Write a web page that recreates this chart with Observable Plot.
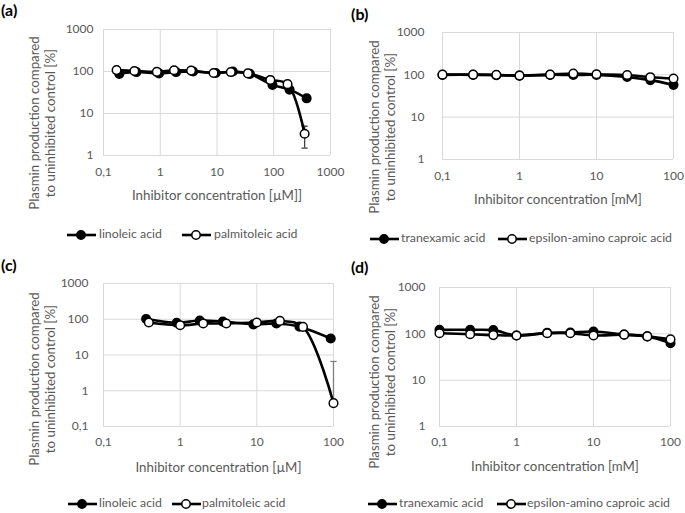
<!DOCTYPE html>
<html><head><meta charset="utf-8">
<script src="https://cdn.jsdelivr.net/npm/d3@7"></script>
<script src="https://cdn.jsdelivr.net/npm/@observablehq/plot@0.6"></script>
<style>
body{margin:0;background:#fff;}
#root{position:relative;width:685px;height:513px;overflow:hidden;font-family:Lato,"Open Sans",sans-serif;background:#fff;}
.panel{position:absolute;}
.panel svg{overflow:visible;}
.tag{position:absolute;font-weight:bold;font-size:16px;color:#000;line-height:16px;}
.leg{position:absolute;font-size:12.3px;color:#595959;white-space:nowrap;line-height:14px;}
.sw{position:absolute;}
.ytitle{position:absolute;white-space:pre;text-align:center;font-size:13.3px;line-height:16px;color:#595959;transform:translate(-50%,-50%) rotate(-90deg);transform-origin:50% 50%;}
</style></head><body><div id="root"></div>
<script>
// ---------- data ----------
// Panel (a): fatty acids, µM
const aLinX = [0.19, 0.38, 0.95, 1.9, 3.8, 9.5, 19, 38, 95, 190, 380];
const aLinY = [88, 97, 90, 97, 100, 92, 100, 88, 48, 37, 23];
const aPalX = [0.17, 0.35, 0.87, 1.75, 3.5, 8.7, 17.5, 35, 87, 175, 350];
const aPalY = [108, 103, 98, 107, 105, 92, 97, 90, 63, 50, 3.3];
const aErrX = [380, 350];
const aErrLo = [20, 1.5];
const aErrHi = [27, 5];

// Panel (b): lysine analogues, mM
const bX = [0.1, 0.25, 0.5, 1, 2.5, 5, 10, 25, 50, 100];
const bTraY = [100, 100, 98, 96, 100, 99, 100, 89, 75, 58];
const bEpsY = [101, 101, 100, 96, 101, 107, 103, 99, 88, 82];

// Panel (c): fatty acids, µM
const cLinX = [0.36, 0.9, 1.8, 3.6, 9, 18, 36, 92];
const cLinY = [102, 80, 92, 86, 72, 76, 62, 29];
const cPalX = [0.39, 1, 2, 4, 10, 20, 40, 100];
const cPalY = [81, 68, 76, 76, 81, 90, 61, 0.45];
const cErrX = [92, 100];
const cErrLo = [26, 0.45];
const cErrHi = [33, 6.6];

// Panel (d): lysine analogues, mM
const dX = [0.1, 0.25, 0.5, 1, 2.5, 5, 10, 25, 50, 100];
const dTraY = [122, 122, 120, 92, 105, 107, 112, 96, 88, 63];
const dEpsY = [103, 98, 94, 92, 103, 103, 92, 96, 88, 76];

// tick labels
const xTicksA = [0.1, 1, 10, 100, 1000];
const xLabelsA = ["0,1", "1", "10", "100", "1000"];
const xTicksB = [0.1, 1, 10, 100];
const xLabelsB = ["0,1", "1", "10", "100"];
const yTicks1 = [1, 10, 100, 1000];
const yLabels1 = ["1", "10", "100", "1000"];
const yTicks01 = [0.1, 1, 10, 100, 1000];
const yLabels01 = ["0,1", "1", "10", "100", "1000"];

const yTitle = "Plasmin production compared\nto uninhibited control [%]";
const fattyNames = ["linoleic acid", "palmitoleic acid"];
const lysineNames = ["tranexamic acid", "epsilon-amino caproic acid"];

// ---------- drawing ----------
const capSymbol = {draw(ctx, size) { const w = Math.sqrt(size) / 2; ctx.moveTo(-w, 0); ctx.lineTo(w, 0); }};

function rows(xs, ys) { return xs.map((x, i) => ({x, y: ys[i]})); }

function panel(cfg) {
  const xMap = new Map(cfg.xTicks.map((t, i) => [t, cfg.xLabels[i]]));
  const yMap = new Map(cfg.yTicks.map((t, i) => [t, cfg.yLabels[i]]));
  const errs = cfg.errX ? cfg.errX.map((x, i) => ({x, lo: cfg.errLo[i], hi: cfg.errHi[i]})) : [];
  const marks = [
    Plot.gridX(cfg.xTicks, {stroke: "#d9d9d9", strokeOpacity: 1, strokeWidth: 1}),
    Plot.gridY(cfg.yTicks, {stroke: "#d9d9d9", strokeOpacity: 1, strokeWidth: 1}),
    Plot.axisX(cfg.xTicks, {tickSize: 0, tickPadding: cfg.xPad, tickFormat: d => xMap.get(d), label: null, fill: "#595959"}),
    Plot.axisY(cfg.yTicks, {tickSize: 0, tickPadding: cfg.yPad, tickFormat: d => yMap.get(d), label: null, fill: "#595959"}),
    Plot.ruleX(errs, {x: "x", y1: "lo", y2: "hi", stroke: cfg.errColor, strokeWidth: 1.3}),
    Plot.dot(errs, {x: "x", y: "hi", symbol: capSymbol, r: 3.5, stroke: cfg.errColor, strokeWidth: 1.3, fill: "none"}),
    Plot.dot(errs.filter(() => cfg.lowCaps), {x: "x", y: "lo", symbol: capSymbol, r: 3.5, stroke: cfg.errColor, strokeWidth: 1.3, fill: "none"})
  ];
  cfg.series.forEach(s => {
    marks.push(Plot.line(rows(s.x, s.y), {x: "x", y: "y", stroke: "#000", strokeWidth: 2.6, curve: "catmull-rom"}));
  });
  cfg.series.forEach(s => {
    marks.push(Plot.dot(rows(s.x, s.y), {x: "x", y: "y", r: 4.3, fill: s.filled ? "#000" : "#fff", stroke: "#000", strokeWidth: 1.5}));
  });
  marks.push(Plot.text([cfg.xTitle], {text: d => d, frameAnchor: "bottom", dy: cfg.xTitleDy, lineAnchor: "middle", fontSize: 13.3, fill: "#595959"}));
  const svg = Plot.plot({
    width: cfg.width, height: cfg.height,
    marginLeft: cfg.ml, marginRight: cfg.mr, marginTop: cfg.mt, marginBottom: cfg.mb,
    style: {fontFamily: "Lato, 'Open Sans', sans-serif", fontSize: "12px", color: "#595959", background: "transparent", overflow: "visible"},
    x: {type: "log", domain: cfg.xDomain},
    y: {type: "log", domain: cfg.yDomain},
    marks
  });
  const div = document.createElement("div");
  div.className = "panel";
  div.style.left = cfg.left + "px";
  div.style.top = cfg.top + "px";
  div.appendChild(svg);
  root.appendChild(div);

  const yt = document.createElement("div");
  yt.className = "ytitle";
  yt.textContent = yTitle;
  yt.style.left = cfg.yTitleX + "px";
  yt.style.top = cfg.yTitleY + "px";
  root.appendChild(yt);

  const tag = document.createElement("div");
  tag.className = "tag";
  tag.textContent = cfg.tag;
  tag.style.left = cfg.tagX + "px";
  tag.style.top = cfg.tagY + "px";
  root.appendChild(tag);

  cfg.legend.forEach((it, i) => {
    const ns = "http://www.w3.org/2000/svg";
    const sw = document.createElementNS(ns, "svg");
    sw.setAttribute("width", 30); sw.setAttribute("height", 12);
    sw.setAttribute("class", "sw");
    sw.style.left = it.swX + "px"; sw.style.top = (cfg.legY - 6) + "px";
    sw.innerHTML = `<line x1="0" x2="29" y1="6" y2="6" stroke="#000" stroke-width="2.6"/><circle cx="${it.cx}" cy="6" r="4.2" fill="${i === 0 ? "#000" : "#fff"}" stroke="#000" stroke-width="1.5"/>`;
    root.appendChild(sw);
    const t = document.createElement("div");
    t.className = "leg";
    t.textContent = it.name;
    t.style.left = it.txX + "px";
    t.style.top = (cfg.legY - 8) + "px";
    root.appendChild(t);
  });
}

const root = document.getElementById("root");

panel({
  tag: "(a)", tagX: 1, tagY: 2,
  left: 0, top: 0, width: 342, height: 210, ml: 103, mr: 12, mt: 29, mb: 55,
  xDomain: [0.1, 1000], yDomain: [1, 1000],
  xTicks: xTicksA, xLabels: xLabelsA, yTicks: yTicks1, yLabels: yLabels1,
  xPad: 12, yPad: 10, xTitle: "Inhibitor concentration [µM]]", xTitleDy: 40,
  yTitleX: 42, yTitleY: 123,
  series: [{x: aLinX, y: aLinY, filled: true}, {x: aPalX, y: aPalY, filled: false}],
  errX: aErrX, errLo: aErrLo, errHi: aErrHi, errColor: "#404040", lowCaps: true,
  legY: 235,
  legend: [{name: fattyNames[0], swX: 67, cx: 14, txX: 99}, {name: fattyNames[1], swX: 182, cx: 14, txX: 214}]
});

panel({
  tag: "(b)", tagX: 351, tagY: 6,
  left: 342, top: 0, width: 343, height: 210, ml: 100, mr: 12, mt: 32, mb: 51,
  xDomain: [0.1, 100], yDomain: [1, 1000],
  xTicks: xTicksB, xLabels: xLabelsB, yTicks: yTicks1, yLabels: yLabels1,
  xPad: 12, yPad: 18, xTitle: "Inhibitor concentration [mM]", xTitleDy: 40,
  yTitleX: 381.5, yTitleY: 127,
  series: [{x: bX, y: bTraY, filled: true}, {x: bX, y: bEpsY, filled: false}],
  errColor: "#404040",
  legY: 239,
  legend: [{name: lysineNames[0], swX: 370, cx: 14, txX: 401}, {name: lysineNames[1], swX: 498, cx: 14, txX: 529}]
});

panel({
  tag: "(c)", tagX: 1, tagY: 257,
  left: 0, top: 255, width: 342, height: 215, ml: 103, mr: 9, mt: 28, mb: 44,
  xDomain: [0.1, 100], yDomain: [0.1, 1000],
  xTicks: xTicksB, xLabels: xLabelsB, yTicks: yTicks01, yLabels: yLabels01,
  xPad: 11, yPad: 15, xTitle: "Inhibitor concentration [µM]", xTitleDy: 41,
  yTitleX: 42, yTitleY: 379,
  series: [{x: cLinX, y: cLinY, filled: true}, {x: cPalX, y: cPalY, filled: false}],
  errX: cErrX, errLo: cErrLo, errHi: cErrHi, errColor: "#7f7f7f", lowCaps: false,
  legY: 504,
  legend: [{name: fattyNames[0], swX: 68, cx: 14, txX: 99}, {name: fattyNames[1], swX: 172, cx: 14, txX: 202}]
});

panel({
  tag: "(d)", tagX: 351, tagY: 259,
  left: 342, top: 255, width: 343, height: 215, ml: 97, mr: 15, mt: 32, mb: 44,
  xDomain: [0.1, 100], yDomain: [1, 1000],
  xTicks: xTicksB, xLabels: xLabelsB, yTicks: yTicks1, yLabels: yLabels1,
  xPad: 11, yPad: 14, xTitle: "Inhibitor concentration [mM]", xTitleDy: 40,
  yTitleX: 381.5, yTitleY: 382,
  series: [{x: dX, y: dTraY, filled: true}, {x: dX, y: dEpsY, filled: false}],
  errColor: "#404040",
  legY: 504,
  legend: [{name: lysineNames[0], swX: 368, cx: 14, txX: 399}, {name: lysineNames[1], swX: 497, cx: 14, txX: 527}]
});
</script></body></html>
